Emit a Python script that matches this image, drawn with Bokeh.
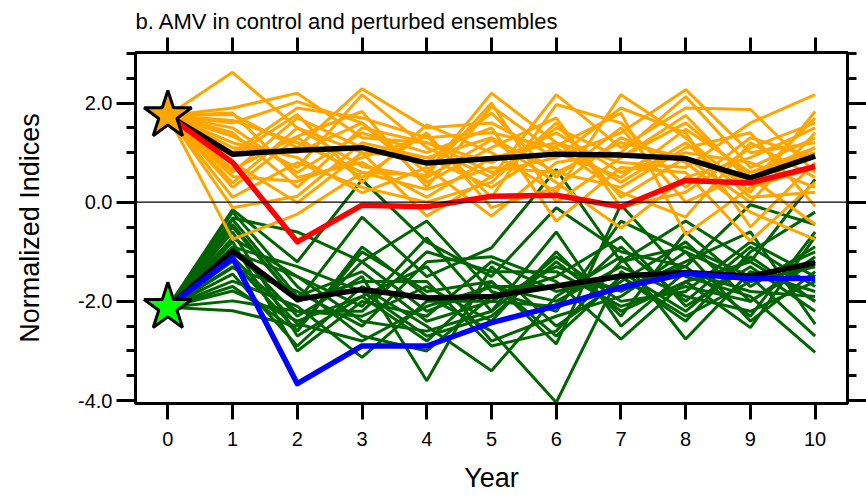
from bokeh.plotting import figure
from bokeh.models import Range1d, LinearAxis, FixedTicker, Span
from bokeh.embed import file_html
from bokeh.resources import INLINE

# ---------------- data ----------------
years = [0, 1, 2, 3, 4, 5, 6, 7, 8, 9, 10]
x_tick_labels = ["0", "1", "2", "3", "4", "5", "6", "7", "8", "9", "10"]
y_major_ticks = [-4.0, -2.0, 0.0, 2.0]
y_tick_labels = ["-4.0", "-2.0", "0.0", "2.0"]
y_minor_ticks = [-4.0, -3.5, -3.0, -2.5, -2.0, -1.5, -1.0, -0.5, 0.0, 0.5, 1.0, 1.5, 2.0, 2.5, 3.0]

warm_start = 1.75
cold_start = -2.12

# warm (orange) ensemble members, years 1..10
warm_members = [
    [2.62, 1.5, 1.0, 0.9, 1.3, 0.6, 1.2, 0.9, 0.4, 1.1],
    [1.9, 2.2, 1.3, 1.2, 0.8, 1.4, 0.6, 1.0, 0.8, 0.3],
    [1.77, 1.1, 2.29, 1.5, 1.6, 0.9, 1.4, 2.27, 1.0, 1.2],
    [1.6, 2.03, 1.6, 0.6, 2.2, 1.2, 0.8, 0.7, 1.6, 2.17],
    [1.33, 0.7, 2.17, 1.1, 0.5, 2.17, 1.1, 1.9, 1.87, 0.6],
    [0.93, 1.77, 0.4, 1.56, 1.0, 0.2, 2.17, 1.3, 0.2, 1.83],
    [0.66, 1.33, 1.83, 0.3, 1.93, 1.0, 0.5, 1.47, 0.6, 1.0],
    [0.52, 0.42, 0.9, 1.33, 0.1, 1.97, 1.6, 0.3, 1.3, 0.9],
    [0.39, 1.5, 0.72, 0.5, 1.26, 0.4, -0.52, 0.5, 0.9, 1.5],
    [-0.11, 0.12, 1.2, 0.9, 0.3, 1.13, 1.8, -0.65, 0.3, 0.7],
    [-0.75, -0.24, 0.6, 0.26, 0.7, 0.6, 0.3, 1.1, 1.4, -0.08],
    [1.2, 0.9, 0.19, 0.7, -0.28, 0.8, 1.0, 2.13, 0.7, 1.3],
    [1.5, 0.6, 1.4, 1.0, 1.5, -0.38, 0.7, 0.6, -0.78, 0.4],
    [0.8, -0.01, 1.0, -0.28, 0.52, 1.5, 0.9, 1.6, 0.5, -0.45],
    [1.1, 1.0, 1.6, 0.4, 1.1, 1.7, -0.1, 0.2, 1.1, 1.6],
    [0.3, 1.3, 0.5, 1.4, -0.11, 0.3, 1.3, 0.8, -0.2, -0.75],
    [1.8, 0.5, 0.8, 0.1, 0.9, 1.2, 0.4, 1.2, 0.1, 0.2],
    [0.6, 1.7, 1.1, 0.8, 1.8, 0.5, 1.5, 0.0, 0.6, 1.1],
    [1.4, 0.3, 1.5, 1.2, 0.6, 0.9, 1.9, 1.4, -0.5, 0.8],
    [0.1, 0.8, 0.3, 0.0, 0.4, 1.6, 0.1, 0.9, 0.0, 1.4],
    [1.0, 1.9, 1.7, 1.3, 1.4, 1.1, 0.2, -0.3, 1.2, 0.5],
    [1.65, 1.2, 0.6, 0.55, 2.0, 0.0, 0.9, 1.75, 0.4, 1.7],
]

# cold (green) ensemble members, years 1..10
cold_members = [
    [-0.15, -1.2, 0.45, -0.8, -1.5, -0.11, -1.0, -1.3, -0.05, -0.45],
    [-0.32, -0.6, -1.2, -0.38, -1.8, -2.2, -0.38, -1.0, -1.6, -1.0],
    [-0.45, -2.0, -0.3, -1.5, -0.92, 0.66, -1.2, -0.38, -1.2, 0.46],
    [-0.72, -1.5, -2.1, -0.72, -2.2, -1.1, -2.0, -1.8, -0.8, -1.5],
    [-0.92, -2.3, -1.5, -3.6, -1.3, -2.5, -1.6, -0.8, -2.0, -1.2],
    [-1.19, -2.6, -0.9, -1.9, -2.6, -4.04, -1.4, -2.2, -1.1, -2.0],
    [-1.32, -1.8, -2.5, -1.2, -1.1, -1.6, -2.76, -1.6, -2.53, -0.7],
    [-1.45, -2.9, -1.7, -2.5, -3.4, -1.9, -1.1, -2.76, -1.4, -1.8],
    [-1.59, -2.1, -3.13, -2.0, -2.0, -1.3, -1.8, -1.2, -0.6, -2.46],
    [-1.79, -2.4, -1.9, -2.8, -1.6, -2.86, -0.05, -1.5, -1.9, -3.03],
    [-1.99, -2.2, -2.3, -1.7, -2.4, -1.0, -2.3, -0.6, -1.7, -0.9],
    [-2.19, -2.5, -1.2, -2.2, -1.7, -2.0, -1.3, -1.9, -2.2, -1.6],
    [-0.2, -1.7, -2.7, -3.0, -1.9, -1.5, -0.7, -2.1, -1.3, -2.2],
    [-0.6, -2.7, -1.9, -1.3, -2.8, -2.3, -1.9, -1.0, -2.4, -1.4],
    [-0.8, -3.0, -2.0, -2.3, -1.2, -1.8, -1.5, -2.4, -1.0, -0.2],
    [-1.0, -1.5, -2.4, -2.6, -2.2, -0.6, -2.5, -1.4, -1.8, -1.9],
    [-0.5, -2.0, -1.6, -1.6, -2.9, -2.6, -1.2, -0.9, -1.5, -2.7],
    [-1.3, -2.2, -2.2, -1.0, -1.4, -1.4, -2.1, -1.7, -2.0, -1.1],
    [-0.35, -1.9, -1.4, -2.4, -2.0, -2.1, -0.9, -2.0, -0.9, -1.7],
    [-1.1, -2.45, -2.8, -2.1, -1.7, -1.7, -1.7, -1.3, -2.3, -0.6],
    [-0.9, -1.3, -1.8, -2.7, -2.3, -1.2, -2.2, -1.6, -1.2, -2.0],
    [-1.7, -2.6, -1.0, -1.8, -1.6, -2.7, -1.5, -2.3, -1.6, -1.3],
]

warm_mean = [1.75, 0.97, 1.05, 1.10, 0.79, 0.88, 0.97, 0.95, 0.88, 0.49, 0.93]
cold_mean = [-2.12, -0.99, -1.96, -1.76, -1.93, -1.90, -1.69, -1.49, -1.42, -1.49, -1.22]
control_warm = [1.75, 0.80, -0.80, -0.06, -0.09, 0.12, 0.14, -0.09, 0.44, 0.39, 0.72]
control_cold = [-2.12, -1.12, -3.66, -2.90, -2.90, -2.43, -2.09, -1.72, -1.44, -1.54, -1.54]

# ---------------- figure ----------------
FONT = "Liberation Sans"

p = figure(width=866, height=500,
           x_range=Range1d(-0.5, 10.5), y_range=Range1d(-4.06, 3.02),
           output_backend="svg", toolbar_location=None,
           min_border_left=135, min_border_right=14,
           min_border_top=52, min_border_bottom=97)
p.xgrid.visible = False
p.ygrid.visible = False
p.outline_line_color = "black"
p.outline_line_width = 3
p.background_fill_color = "white"
p.border_fill_color = "white"

p.title.text = "b. AMV in control and perturbed ensembles"
p.title.text_font = FONT
p.title.text_font_size = "22px"
p.title.text_font_style = "normal"
p.title.text_color = "black"
p.title.align = "left"
p.title.standoff = 8

xt = FixedTicker(ticks=years, minor_ticks=[])
yt = FixedTicker(ticks=y_major_ticks, minor_ticks=y_minor_ticks)
x_over = {y: lab for y, lab in zip(years, x_tick_labels)}
y_over = {v: lab for v, lab in zip(y_major_ticks, y_tick_labels)}


def style_axis(ax, ticker, show_labels, major_len, minor_len):
    ax.ticker = ticker
    ax.axis_line_width = 3
    ax.axis_line_color = "black"
    ax.major_tick_line_width = 3
    ax.minor_tick_line_width = 3
    ax.major_tick_line_color = "black"
    ax.minor_tick_line_color = "black"
    ax.major_tick_in = 0
    ax.major_tick_out = major_len
    ax.minor_tick_in = 0
    ax.minor_tick_out = minor_len
    ax.major_label_text_font = FONT
    ax.major_label_text_font_size = "20px"
    ax.major_label_text_color = "black" if show_labels else None
    ax.axis_label_text_font = FONT
    ax.axis_label_text_font_size = "27px"
    ax.axis_label_text_font_style = "normal"
    ax.axis_label_text_color = "black"


style_axis(p.xaxis[0], xt, True, 16, 0)
p.xaxis[0].major_label_overrides = x_over
p.xaxis[0].axis_label = "Year"
p.xaxis[0].major_label_standoff = 12
p.xaxis[0].axis_label_standoff = 14

style_axis(p.yaxis[0], yt, True, 19, 9)
p.yaxis[0].major_label_overrides = y_over
p.yaxis[0].axis_label = "Normalized Indices"
p.yaxis[0].major_label_standoff = 4
p.yaxis[0].axis_label_standoff = 30

ax_top = LinearAxis()
style_axis(ax_top, xt, False, 15, 0)
ax_top.major_label_text_font_size = "1px"
ax_top.major_label_standoff = 0
p.add_layout(ax_top, "above")

ax_right = LinearAxis()
style_axis(ax_right, yt, False, 19, 9)
ax_right.major_label_text_font_size = "1px"
ax_right.major_label_standoff = 0
p.add_layout(ax_right, "right")

# ensemble members
for m in cold_members:
    p.line(years, [cold_start] + m, line_color="#006400", line_width=3)
for m in warm_members:
    p.line(years, [warm_start] + m, line_color="#FFA500", line_width=3)

p.line(years, warm_mean, line_color="black", line_width=5.5, line_join="round")
p.line(years, control_warm, line_color="#FF0000", line_width=5.5, line_join="round")
p.line(years, cold_mean, line_color="black", line_width=5.5, line_join="round")
p.line(years, control_cold, line_color="#0000FF", line_width=5.5, line_join="round")

p.add_layout(Span(location=0, dimension="width", line_color="black", line_width=1.3))

p.scatter([years[0]], [warm_start], marker="star", size=50,
          fill_color="#FFA500", line_color="black", line_width=3)
p.scatter([years[0]], [cold_start], marker="star", size=50,
          fill_color="#00FF00", line_color="black", line_width=3)

open("out.html", "w").write(file_html(p, INLINE))
